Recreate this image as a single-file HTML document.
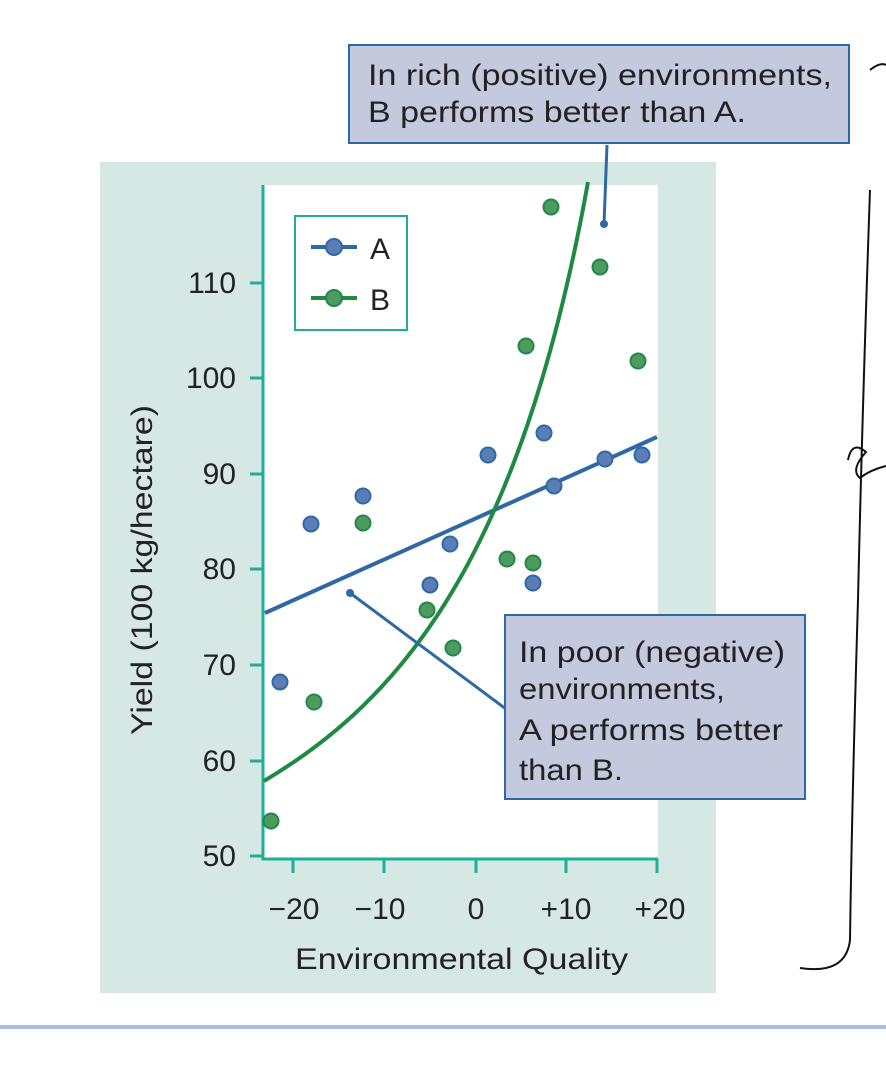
<!DOCTYPE html>
<html><head><style>body{margin:0;background:#fff}svg{display:block}</style></head><body>
<svg width="886" height="1079" viewBox="0 0 886 1079" xmlns="http://www.w3.org/2000/svg" font-family="Liberation Sans, sans-serif">
<rect x="0" y="0" width="886" height="1079" fill="#fff"/>
<rect x="100" y="162" width="616" height="831" fill="#d5e8e3"/>
<rect x="264" y="185" width="394" height="674" fill="#fff"/>
<g stroke="#1fae98" stroke-width="3" fill="none">
<path d="M263 185 V859 H658"/>
<path d="M250 283H263M250 378H263M250 474H263M250 569H263M250 665H263M250 761H263M250 856H263"/>
<path d="M293 859V873M384 859V873M476 859V873M566 859V873M657 859V873"/>
</g>
<g font-size="30" fill="#222" text-anchor="end">
<text x="236" y="293">110</text><text x="236" y="388">100</text><text x="236" y="484">90</text>
<text x="236" y="579">80</text><text x="236" y="675">70</text><text x="236" y="771">60</text><text x="236" y="866">50</text>
</g>
<g font-size="30" fill="#222" text-anchor="middle">
<text x="294" y="919">−20</text><text x="380" y="919">−10</text><text x="476" y="919">0</text>
<text x="566" y="919">+10</text><text x="660" y="919">+20</text>
</g>
<text x="295" y="969" font-size="30" fill="#222" textLength="333" lengthAdjust="spacingAndGlyphs">Environmental Quality</text>
<text transform="translate(152,735) rotate(-90)" font-size="30" fill="#222" textLength="330" lengthAdjust="spacingAndGlyphs">Yield (100 kg/hectare)</text>
<rect x="295" y="216" width="112" height="114" fill="#fff" stroke="#1fae98" stroke-width="2"/>
<path d="M311 247H357" stroke="#2e69a6" stroke-width="4"/><circle cx="334" cy="247" r="8" fill="#5a7db6" stroke="#2e69a6" stroke-width="2"/>
<path d="M311 298H357" stroke="#1f8a43" stroke-width="4"/><circle cx="334" cy="298" r="8" fill="#4e9a62" stroke="#1f8a43" stroke-width="2"/>
<text x="370" y="259" font-size="30" fill="#222">A</text><text x="370" y="310" font-size="30" fill="#222">B</text>
<path d="M265 613 L657 437" stroke="#2e69a6" stroke-width="4"/>
<path d="M264 781 C400 700 520 560 588 182" stroke="#1f8a43" stroke-width="4" fill="none"/>
<g fill="#4e9a62" stroke="#1f8a43" stroke-width="2">
<circle cx="271" cy="821" r="7.5"/><circle cx="314" cy="702" r="7.5"/><circle cx="363" cy="523" r="7.5"/>
<circle cx="427" cy="610" r="7.5"/><circle cx="453" cy="648" r="7.5"/><circle cx="507" cy="559" r="7.5"/>
<circle cx="533" cy="563" r="7.5"/><circle cx="526" cy="346" r="7.5"/><circle cx="551" cy="207" r="7.5"/>
<circle cx="600" cy="267" r="7.5"/><circle cx="638" cy="361" r="7.5"/>
</g>
<g fill="#5a7db6" stroke="#2e69a6" stroke-width="2">
<circle cx="280" cy="682" r="7.5"/><circle cx="311" cy="524" r="7.5"/><circle cx="363" cy="496" r="7.5"/>
<circle cx="430" cy="585" r="7.5"/><circle cx="450" cy="544" r="7.5"/><circle cx="488" cy="455" r="7.5"/>
<circle cx="533" cy="583" r="7.5"/><circle cx="544" cy="433" r="7.5"/><circle cx="554" cy="486" r="7.5"/>
<circle cx="605" cy="459" r="7.5"/><circle cx="642" cy="455" r="7.5"/>
</g>
<path d="M350 593 L510 712" stroke="#2e69a6" stroke-width="3"/><circle cx="350" cy="593" r="4" fill="#2e69a6"/>
<path d="M604 224 L607 145" stroke="#2e69a6" stroke-width="3"/><circle cx="604" cy="224" r="4" fill="#2e69a6"/>
<rect x="349" y="45" width="500" height="98" fill="#c4c9de" stroke="#2e69a6" stroke-width="2"/>
<text x="368" y="85" font-size="30" fill="#222" textLength="464" lengthAdjust="spacingAndGlyphs">In rich (positive) environments,</text>
<text x="368" y="122" font-size="30" fill="#222" textLength="378" lengthAdjust="spacingAndGlyphs">B performs better than A.</text>
<rect x="505" y="615" width="300" height="184" fill="#c4c9de" stroke="#2e69a6" stroke-width="2"/>
<g font-size="30" fill="#222">
<text x="519" y="662" textLength="266" lengthAdjust="spacingAndGlyphs">In poor (negative)</text>
<text x="519" y="699" textLength="206" lengthAdjust="spacingAndGlyphs">environments,</text>
<text x="519" y="740" textLength="264" lengthAdjust="spacingAndGlyphs">A performs better</text>
<text x="519" y="780" textLength="104" lengthAdjust="spacingAndGlyphs">than B.</text></g>
<rect x="0" y="1025" width="886" height="4" fill="#a9bedc"/>
<g stroke="#111" stroke-width="2" fill="none">
<path d="M870 70 Q880 62 886 65"/>
<path d="M870 190 Q862 420 858 600 Q852 800 850 940 Q846 975 800 968"/>
<path d="M848 460 Q852 440 866 452 Q850 470 860 478 Q870 470 886 466"/>
</g>
</svg>
</body></html>
